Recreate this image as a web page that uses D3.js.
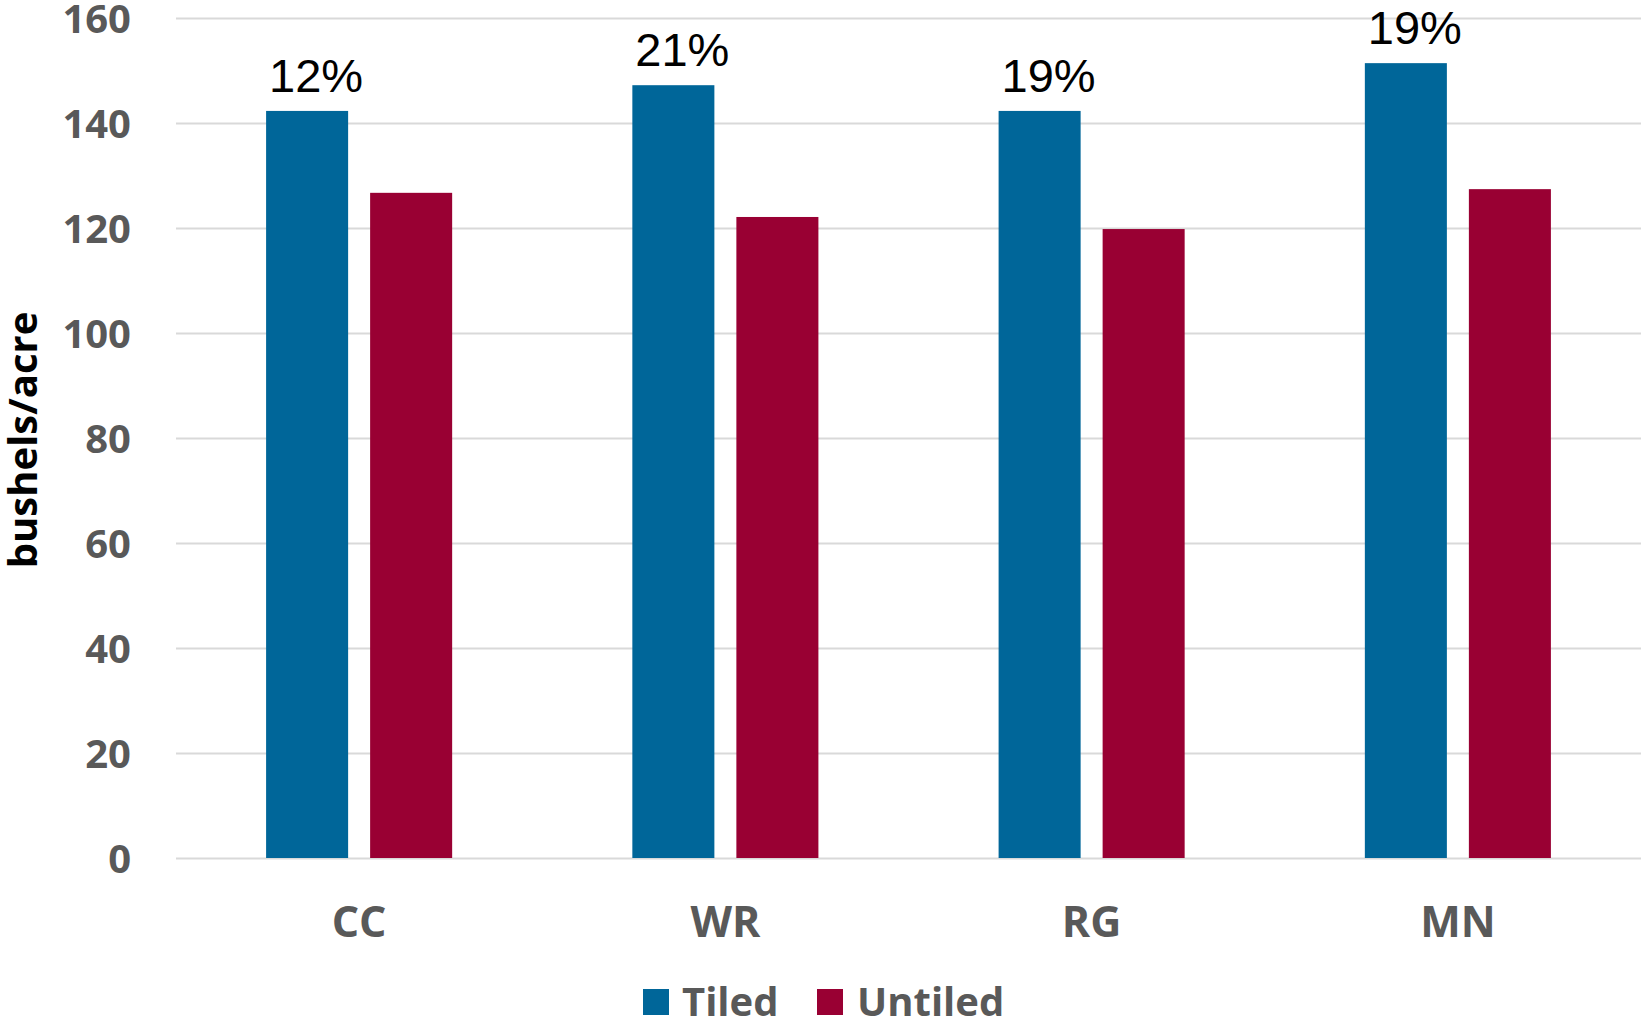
<!DOCTYPE html>
<html>
<head>
<meta charset="utf-8">
<script src="https://cdn.jsdelivr.net/npm/d3@7/dist/d3.min.js"></script>
<style>
  html, body { margin: 0; padding: 0; background: #fff; }
  svg { display: block; }
</style>
</head>
<body>
<svg id="chart" width="1641" height="1023"></svg>
<script>
// Corn yield by cover-crop treatment, tiled vs untiled fields
const categories = ["CC", "WR", "RG", "MN"];
const seriesNames = ["Tiled", "Untiled"];
const tiled = [142.3, 147.2, 142.3, 151.4];
const untiled = [126.7, 122.1, 119.8, 127.4];
const increaseLabels = ["12%", "21%", "19%", "19%"];
const yTicks = [0, 20, 40, 60, 80, 100, 120, 140, 160];
const colors = ["#006699", "#990033"];

const svg = d3.select("#chart");
const plot = { left: 176, right: 1641, top: 18, bottom: 858 };

const y = d3.scaleLinear().domain([0, 160]).range([plot.bottom, plot.top]);
const x0 = d3.scaleBand().domain(categories).range([plot.left, plot.right])
  .paddingInner(0.492).paddingOuter(0.246);
const x1 = d3.scaleBand().domain(seriesNames).range([0, x0.bandwidth()])
  .paddingInner(0.2115).paddingOuter(0);
const color = d3.scaleOrdinal().domain(seriesNames).range(colors);

// Horizontal gridlines
svg.append("g")
  .selectAll("line")
  .data(yTicks)
  .join("line")
  .attr("x1", plot.left).attr("x2", plot.right)
  .attr("y1", d => Math.round(y(d)) + 0.5).attr("y2", d => Math.round(y(d)) + 0.5)
  .attr("stroke", "#d9d9d9").attr("stroke-width", 2);

// Y axis tick labels
const yAxis = d3.axisLeft(y).tickValues(yTicks).tickSize(0).tickPadding(0);
const gy = svg.append("g").attr("transform", `translate(131,0)`).call(yAxis);
gy.select(".domain").remove();
gy.selectAll("text")
  .attr("font-family", "'Open Sans', sans-serif")
  .attr("font-weight", 700)
  .attr("font-size", 40)
  .attr("fill", "#595959")
  .attr("dy", "0.35em");

// Y axis title
svg.append("text")
  .attr("transform", "translate(37,440) rotate(-90)")
  .attr("text-anchor", "middle")
  .attr("font-family", "'Open Sans', sans-serif")
  .attr("font-weight", 700)
  .attr("font-size", 40)
  .attr("fill", "#000")
  .text("bushels/acre");

// Bars
const rows = categories.map((c, i) => ({ cat: c, values: [tiled[i], untiled[i]] }));
const groups = svg.append("g")
  .selectAll("g")
  .data(rows)
  .join("g")
  .attr("transform", d => `translate(${x0(d.cat)},0)`);

groups.selectAll("rect")
  .data(d => d.values.map((v, j) => ({ key: seriesNames[j], value: v })))
  .join("rect")
  .attr("x", d => x1(d.key))
  .attr("width", x1.bandwidth())
  .attr("y", d => y(d.value))
  .attr("height", d => y(0) - y(d.value))
  .attr("fill", d => color(d.key));

// Percent increase labels above the tiled bars
svg.append("g")
  .selectAll("text")
  .data(rows)
  .join("text")
  .attr("x", (d) => x0(d.cat) + x1("Tiled") + x1.bandwidth() / 2 + 9)
  .attr("y", (d) => y(d.values[0]) - 19)
  .attr("text-anchor", "middle")
  .attr("font-family", "'Liberation Sans', Arial, sans-serif")
  .attr("font-size", 47)
  .attr("fill", "#000")
  .text((d, i) => increaseLabels[i]);

// Category axis labels
const xAxis = d3.axisBottom(x0).tickSize(0).tickPadding(0);
const gx = svg.append("g").attr("transform", `translate(0,922)`).call(xAxis);
gx.select(".domain").remove();
gx.selectAll("text")
  .attr("font-family", "'Open Sans', sans-serif")
  .attr("font-weight", 700)
  .attr("font-size", 43)
  .attr("fill", "#595959")
  .attr("dy", "0.35em");

// Legend
const legendItems = [
  { name: "Tiled", x: 643, tx: 682 },
  { name: "Untiled", x: 817, tx: 857 }
];
const legend = svg.append("g");
legend.selectAll("rect")
  .data(legendItems)
  .join("rect")
  .attr("x", d => d.x).attr("y", 989)
  .attr("width", 26).attr("height", 26)
  .attr("fill", d => color(d.name));
legend.selectAll("text")
  .data(legendItems)
  .join("text")
  .attr("x", d => d.tx).attr("y", 1016)
  .attr("font-family", "'Open Sans', sans-serif")
  .attr("font-weight", 700)
  .attr("font-size", 40)
  .attr("fill", "#595959")
  .text(d => d.name);
</script>
</body>
</html>
